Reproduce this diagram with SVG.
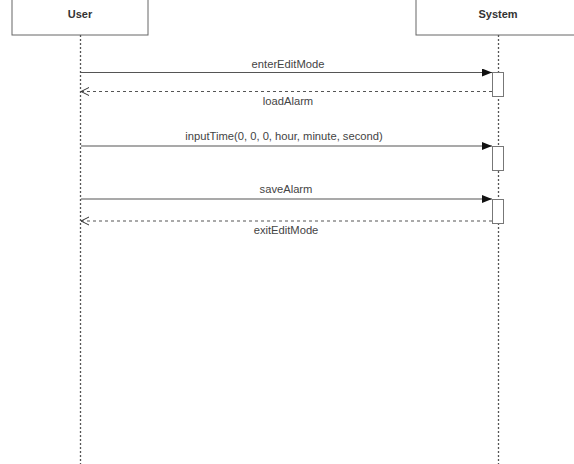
<svg xmlns="http://www.w3.org/2000/svg" width="574" height="464" viewBox="0 0 574 464">
<style>
.box{fill:#fff;stroke:#666;stroke-width:1}
.hdr{font-family:"Liberation Sans",Arial,sans-serif;font-size:11px;font-weight:bold;fill:#333;text-anchor:middle}
.life{stroke:#555;stroke-width:1.3;stroke-dasharray:2 2;fill:none}
.msg{stroke:#555;stroke-width:1.2;fill:none}
.ret{stroke:#555;stroke-width:1.1;stroke-dasharray:3 3;fill:none}
.act{fill:#fff;stroke:#777;stroke-width:1}
.lbl{font-family:"Liberation Sans",Arial,sans-serif;font-size:11.2px;fill:#444;text-anchor:middle}
</style>
<defs>
<marker id="fill" markerWidth="10" markerHeight="8" refX="10" refY="4" orient="auto" markerUnits="userSpaceOnUse">
<path d="M0,0 L10,4 L0,8 Z" fill="#111"/>
</marker>
<marker id="open" markerWidth="10" markerHeight="10" refX="8" refY="5" orient="auto" markerUnits="userSpaceOnUse">
<path d="M0,1 L8,5 L0,9" fill="none" stroke="#333" stroke-width="1"/>
</marker>
</defs>
<g id="user">
<rect class="box" x="12" y="-10" width="136" height="45"/>
<text class="hdr" x="80" y="18">User</text>
<line class="life" x1="80.5" y1="35" x2="80.5" y2="464"/>
</g>
<g id="system">
<rect class="box" x="416" y="-10" width="170" height="45"/>
<text class="hdr" x="498" y="18">System</text>
<line class="life" x1="498.5" y1="35" x2="498.5" y2="464"/>
</g>
<g id="activations">
<rect class="act" x="492.5" y="72.5" width="11" height="24"/>
<rect class="act" x="492.5" y="146.5" width="11" height="24"/>
<rect class="act" x="492.5" y="199.5" width="11" height="24"/>
</g>
<g id="connectors">
<line class="msg" x1="81" y1="72.5" x2="492" y2="72.5" marker-end="url(#fill)"/>
<line class="ret" x1="492" y1="91.5" x2="81" y2="91.5" marker-end="url(#open)"/>
<line class="msg" x1="81" y1="146" x2="492" y2="146" marker-end="url(#fill)"/>
<line class="msg" x1="81" y1="199" x2="492" y2="199" marker-end="url(#fill)"/>
<line class="ret" x1="492" y1="221" x2="81" y2="221" marker-end="url(#open)"/>
</g>
<g id="labels">
<text class="lbl" x="288" y="68">enterEditMode</text>
<text class="lbl" x="288" y="105">loadAlarm</text>
<text class="lbl" x="284" y="140">inputTime(0, 0, 0, hour, minute, second)</text>
<text class="lbl" x="286" y="193">saveAlarm</text>
<text class="lbl" x="286" y="234">exitEditMode</text>
</g>
</svg>
